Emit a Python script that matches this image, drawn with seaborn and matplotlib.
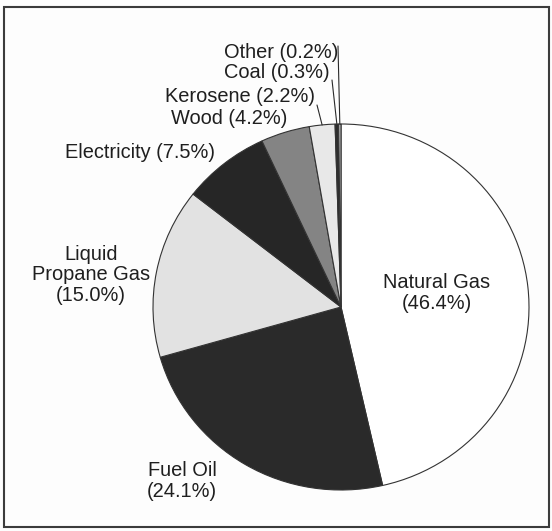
import matplotlib
matplotlib.use("Agg")
import numpy as np
import matplotlib.pyplot as plt
import seaborn as sns
from matplotlib.patches import Rectangle

# Household heating fuel shares (percent)
fuels = ["Natural Gas", "Fuel Oil", "Liquid\nPropane Gas", "Electricity",
         "Wood", "Kerosene", "Coal", "Other"]
shares = [46.4, 24.1, 15.0, 7.5, 4.2, 2.2, 0.3, 0.2]

# Grey-scale fills, one per fuel
shades = ["#ffffff", "#2a2a2a", "#e2e2e2", "#262626",
          "#848484", "#e8e8e8", "#2e2e2e", "#c4c4c4"]

sns.set_theme(style="white")
plt.rcParams["font.family"] = ["Liberation Sans", "DejaVu Sans"]

W, H = 552, 531
fig = plt.figure(figsize=(W / 100, H / 100), dpi=100, facecolor="#fdfdfd")


def fx(px):
    return px / W


def fy(py):
    return 1 - py / H


ax = fig.add_axes([fx(153), fy(490), fx(529) - fx(153), fy(124) - fy(490)])
palette = sns.color_palette(shades)
wedges, _ = ax.pie(shares, colors=palette, startangle=90, counterclock=False,
                   wedgeprops=dict(edgecolor="#333333", linewidth=0.8))
ax.set_aspect("auto")
ax.set_xlim(-1, 1)
ax.set_ylim(-1, 1)

# label text and placement (pixel anchor, alignment, line break before percent)
layout = {
    "Natural Gas": ((437, 293), "center", "\n"),
    "Fuel Oil": ((182, 481), "center", "\n"),
    "Liquid\nPropane Gas": ((91, 275), "center", "\n"),
    "Electricity": ((215, 152), "right", " "),
    "Wood": ((287, 118), "right", " "),
    "Kerosene": ((315, 97), "right", " "),
    "Coal": ((330, 73), "right", " "),
    "Other": ((338, 52), "right", " "),
}
for name, share in zip(fuels, shares):
    (px, py), ha, sep = layout[name]
    fig.text(fx(px), fy(py), f"{name}{sep}({share:.1f}%)", ha=ha, va="center",
             ma="center", fontsize=14.4, color="#1f1f1f", linespacing=1.12)

# leader lines from the small-slice labels down to their wedges
total = sum(shares)
edges = np.cumsum([0] + shares) / total
leaders = {"Kerosene": (317, 105), "Coal": (332, 80), "Other": (338, 46)}
for i, name in enumerate(fuels):
    if name not in leaders:
        continue
    mid = (edges[i] + edges[i + 1]) / 2
    theta = np.deg2rad(90 - 360 * mid)
    sx, sy = leaders[name]
    ax.annotate("", xy=(np.cos(theta), np.sin(theta)), xycoords="data",
                xytext=(fx(sx), fy(sy)), textcoords="figure fraction",
                arrowprops=dict(arrowstyle="-", color="#2a2a2a", lw=0.8,
                                shrinkA=0, shrinkB=0))

# outer frame
fig.patches.append(Rectangle((fx(4), fy(527)), fx(549) - fx(4), fy(7) - fy(527),
                             transform=fig.transFigure, fill=False,
                             edgecolor="#3c3c3c", linewidth=1.5))

fig.savefig("out.png", dpi=100, facecolor=fig.get_facecolor())
